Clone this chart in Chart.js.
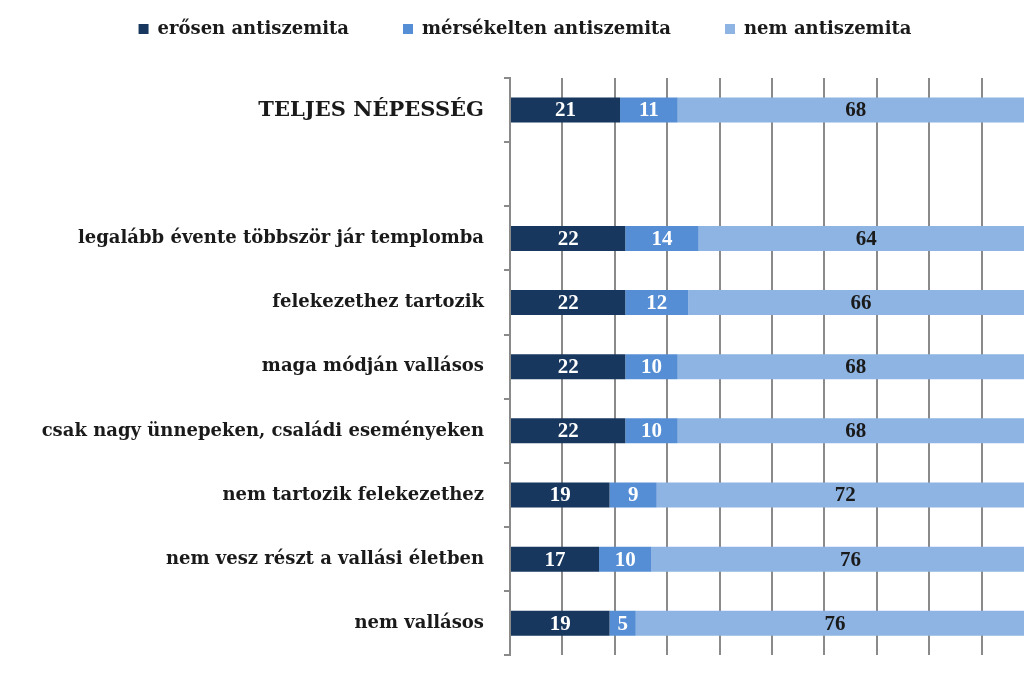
<!DOCTYPE html>
<html>
<head>
<meta charset="utf-8">
<script src="https://cdn.jsdelivr.net/npm/chart.js@4"></script>
<style>
  html, body { margin: 0; padding: 0; background: #fff; overflow: hidden; }
  canvas { display: block; }
</style>
</head>
<body>
<canvas id="barChart" width="1050" height="688"></canvas>
<script>
const categories = [
  'TELJES NÉPESSÉG',
  '',
  'legalább évente többször jár templomba',
  'felekezethez tartozik',
  'maga módján vallásos',
  'csak nagy ünnepeken, családi eseményeken',
  'nem tartozik felekezethez',
  'nem vesz részt a vallási életben',
  'nem vallásos',
];
const strong = [21, null, 22, 22, 22, 22, 19, 17, 19];
const moderate = [11, null, 14, 12, 10, 10, 9, 10, 5];
const notAnti = [68, null, 64, 66, 68, 68, 72, 76, 76];
const seriesNames = ['erősen antiszemita', 'mérsékelten antiszemita', 'nem antiszemita'];

const serif = "'DejaVu Serif', 'Liberation Serif', serif";
const numSerif = "'Liberation Serif', serif";
const inkColor = '#1a1a1a';
const gridColor = '#8a8a8a';

// writes the value in the middle of each bar segment
const segmentLabels = {
  id: 'segmentLabels',
  afterDatasetsDraw(chart) {
    const ctx = chart.ctx;
    ctx.save();
    ctx.font = 'bold 21px ' + numSerif;
    ctx.textAlign = 'center';
    ctx.textBaseline = 'middle';
    chart.data.datasets.forEach((ds, i) => {
      const meta = chart.getDatasetMeta(i);
      ctx.fillStyle = i < 2 ? '#ffffff' : inkColor;
      meta.data.forEach((bar, j) => {
        const v = ds.data[j];
        if (v == null) return;
        ctx.fillText(String(v), (bar.base + bar.x) / 2, bar.y + 1);
      });
    });
    ctx.restore();
  },
};

// legend height tweak so the plot starts lower
const legendGap = {
  id: 'legendGap',
  beforeInit(chart) {
    const fit = chart.legend.fit;
    chart.legend.fit = function () {
      fit.bind(chart.legend)();
      this.height += 30;
    };
  },
};

const ctx = document.getElementById('barChart').getContext('2d');
const myBarChart = new Chart(ctx, {
  type: 'bar',
  data: {
    labels: categories,
    datasets: [
      { label: seriesNames[0], data: strong, backgroundColor: '#17375e' },
      { label: seriesNames[1], data: moderate, backgroundColor: '#558ed5' },
      { label: seriesNames[2], data: notAnti, backgroundColor: '#8eb4e3' },
    ],
  },
  options: {
    responsive: false,
    animation: false,
    indexAxis: 'y',
    layout: { padding: { top: -34, right: 16, bottom: 19, left: 16 } },
    datasets: {
      bar: { barPercentage: 0.78, categoryPercentage: 0.5 },
    },
    scales: {
      x: {
        stacked: true,
        min: 0,
        max: 100,
        ticks: { display: false, stepSize: 10 },
        grid: { color: gridColor, lineWidth: 2, drawTicks: false },
        border: { display: false },
      },
      y: {
        stacked: true,
        afterFit(scale) { scale.width = 494; },
        ticks: {
          color: inkColor,
          padding: 20,
          font: (c) => ({ family: serif, size: c.index === 0 ? 21 : 18, weight: 'bold' }),
        },
        grid: { drawOnChartArea: false, color: gridColor, lineWidth: 2, tickLength: 6 },
        border: { color: gridColor, width: 2 },
      },
    },
    plugins: {
      legend: {
        position: 'top',
        labels: {
          color: inkColor,
          boxWidth: 10,
          boxHeight: 10,
          padding: 54,
          font: { family: serif, size: 18, weight: 'bold' },
        },
      },
      tooltip: { enabled: false },
    },
  },
  plugins: [segmentLabels, legendGap],
});
</script>
</body>
</html>
